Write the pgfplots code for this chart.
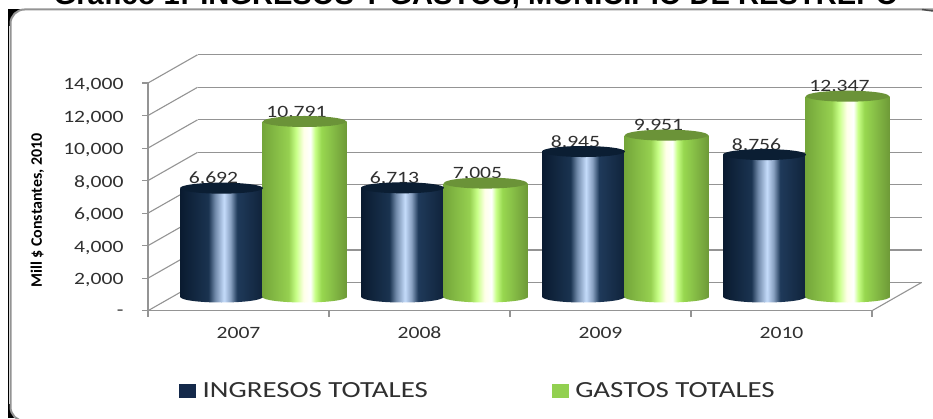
\documentclass[border=0pt]{standalone}
\usepackage{fontspec}
\usepackage{pgfplots}
\usepackage{pgfplotstable}
\pgfplotsset{compat=1.18}
\setmainfont{Carlito}
\newfontfamily\wide[FakeStretch=1.25]{Carlito}
\newfontfamily\titlefont{Liberation Sans}

\definecolor{gridc}{HTML}{949494}
\definecolor{txt}{HTML}{303030}
\definecolor{topdark}{HTML}{0B1E33}
\definecolor{topgreen}{HTML}{6B9338}
\definecolor{swdark}{HTML}{14294A}
\definecolor{swgreen}{HTML}{92D050}
\definecolor{da}{HTML}{0A1B30}
\definecolor{db}{HTML}{1A3350}
\definecolor{dc}{HTML}{6F88A8}
\definecolor{dd}{HTML}{C5DCFB}
\definecolor{de}{HTML}{88A0C0}
\definecolor{df}{HTML}{1F3A5A}
\definecolor{dg}{HTML}{10233B}
\definecolor{ga}{HTML}{74A63A}
\definecolor{gb}{HTML}{96D050}
\definecolor{gc}{HTML}{C8FF88}
\definecolor{gd}{HTML}{FFFFE8}
\definecolor{ge}{HTML}{FFFFFF}
\definecolor{gf}{HTML}{98D850}
\definecolor{gg}{HTML}{6E9A38}

% shading positions: path width maps to 25bp..75bp
\pgfdeclarehorizontalshading{darkcyl}{100bp}{
  color(0bp)=(da); color(25bp)=(da);
  color(42bp)=(db); color(46bp)=(dc);
  color(51.5bp)=(dd); color(55.5bp)=(de);
  color(59.5bp)=(df); color(75bp)=(dg); color(100bp)=(dg)}
\pgfdeclarehorizontalshading{greencyl}{100bp}{
  color(0bp)=(ga); color(25bp)=(ga);
  color(40.5bp)=(gb); color(45bp)=(gc);
  color(49.5bp)=(gd); color(53.5bp)=(ge);
  color(56.25bp)=(gc); color(60bp)=(gf);
  color(75bp)=(gg); color(100bp)=(gg)}

\pgfdeclareplotmark{captop}{%
  \pgfpathellipse{\pgfpointorigin}{\pgfqpoint{41.5pt}{0pt}}{\pgfqpoint{0pt}{5.5pt}}\pgfusepathqfill}
\pgfdeclareplotmark{basedark}{%
  \pgfpathellipse{\pgfpointorigin}{\pgfqpoint{41pt}{0pt}}{\pgfqpoint{0pt}{5.5pt}}%
  \pgfshadepath{darkcyl}{0}\pgfusepath{discard}}
\pgfdeclareplotmark{basegreen}{%
  \pgfpathellipse{\pgfpointorigin}{\pgfqpoint{42pt}{0pt}}{\pgfqpoint{0pt}{5.5pt}}%
  \pgfshadepath{greencyl}{0}\pgfusepath{discard}}

\pgfplotstableread{
i ingresos gastos
0 6692 10791
1 6713 7005
2 8945 9951
3 8756 12347
}\datos

\pgfplotsset{
  sameaxis/.style={
    scale only axis, width=724pt, height=227.7pt, anchor=south west, clip=false,
    xmin=-0.5, xmax=3.5, ymin=0, ymax=14000, scaled y ticks=false,
    /pgf/number format/assume math mode=true,
    /pgf/number format/1000 sep={,}},
  vals/.style={forget plot, draw=none, mark=none, nodes near coords,
    every node near coord/.append style={font=\wide\fontsize{17.3}{20}\selectfont, text=txt,
      anchor=south, inner sep=0pt, yshift=2pt, xshift=#1}},
}

\begin{document}
\begin{tikzpicture}
\path[use as bounding box] (0,0) rectangle (933pt,418pt);
\clip (0,0) rectangle (933pt,418pt);

% title, cut by the top of the picture
\node[anchor=base, font=\titlefont\bfseries\fontsize{29.1}{32}\selectfont, inner sep=0pt]
  at (476pt,413pt) {Gráfico 1: INGRESOS Y GASTOS, MUNICIPIO DE RESTREPO};

% frame
\fill[black] (8pt,409pt) rectangle (26pt,392pt);
\fill[black] (8pt,0pt) rectangle (20pt,14pt);
\draw[black, line width=1pt] (8.5pt,409pt) -- (8.5pt,0pt);
\draw[gridc, line width=2pt, fill=white, rounded corners=14pt]
  (10.5pt,-3pt) -- (10.5pt,408.5pt) -- (960pt,408.5pt) -- (960pt,-3pt) -- cycle;
\draw[gray!60!black, line width=1.5pt] (922pt,408.5pt) -- (933pt,407pt);

% back wall
\begin{axis}[sameaxis, at={(197.5pt,135.5pt)},
    ytick={0,2000,...,14000}, yticklabels={}, xtick=\empty,
    ymajorgrids, grid style={gridc, line width=1.1pt},
    axis line style={draw=none}, tick style={draw=none}]
\end{axis}

% front axis with ticks and labels
\begin{axis}[sameaxis, at={(148pt,107.3pt)},
    axis x line*=bottom, axis y line*=left,
    axis line style={gridc, line width=1.3pt, -},
    tick style={gridc, line width=1.1pt},
    tick align=outside, major tick length=6pt,
    xtick={-0.5,0.5,1.5,2.5,3.5}, x tick label as interval,
    xticklabels={2007,2008,2009,2010},
    ytick={0,2000,...,14000},
    yticklabels={-\hspace{23pt},{2,000},{4,000},{6,000},{8,000},{10,000},{12,000},{14,000}},
    tick label style={font=\wide\fontsize{17.3}{20}\selectfont, text=txt},
    yticklabel style={xshift=-15pt, yshift=-2pt},
    xticklabel style={yshift=-7pt, text height=11pt, text depth=0pt},
    ylabel={Mill \$ Constantes, 2010},
    ylabel style={font=\bfseries\fontsize{16}{18}\selectfont, at={(axis description cs:-0.153,0.44)}, anchor=center}]
  \pgfplotsinvokeforeach{0,2000,...,14000}{
    \draw[gridc, line width=1.1pt] (axis cs:-0.5,#1) -- ++(49.5pt,28.2pt);
  }
  \draw[gridc, line width=1.1pt] (axis cs:3.5,0) -- ++(49.5pt,28.2pt);
\end{axis}

% labels first: the tops of the cylinders cover their lower edge
\begin{axis}[sameaxis, at={(172pt,121pt)}, axis lines=none]
  \addplot[vals=-49pt] table[x=i,y=ingresos] {\datos};
  \addplot[vals=34pt] table[x=i,y=gastos] {\datos};
\end{axis}

% cylinders, one bar per plot so that each one gets its own shading
\begin{axis}[sameaxis, at={(172pt,121pt)}, axis lines=none,
    legend columns=2,
    legend style={at={(0.4227,-0.412)}, anchor=center, draw=none, fill=none,
      font=\wide\fontsize{23.1}{26}\selectfont, text=txt,
      /tikz/every odd column/.append style={column sep=5pt},
      /tikz/every even column/.append style={column sep=122pt}},
    legend cell align=left]
  \pgfplotsinvokeforeach{0,1,2,3}{
    \addplot[forget plot, only marks, mark=basedark, mark options={xshift=-41pt},
      restrict x to domain=#1:#1] table[x=i,y expr=0] {\datos};
    \addplot[forget plot, ybar, bar width=82pt, bar shift=-41pt, draw=none, shading=darkcyl,
      restrict x to domain=#1:#1] table[x=i,y=ingresos] {\datos};
    \addplot[forget plot, only marks, mark=captop, mark options={xshift=-41pt, fill=topdark, draw=none},
      restrict x to domain=#1:#1] table[x=i,y=ingresos] {\datos};
    \addplot[forget plot, only marks, mark=basegreen, mark options={xshift=42pt},
      restrict x to domain=#1:#1] table[x=i,y expr=0] {\datos};
    \addplot[forget plot, ybar, bar width=84pt, bar shift=42pt, draw=none, shading=greencyl,
      restrict x to domain=#1:#1] table[x=i,y=gastos] {\datos};
    \addplot[forget plot, only marks, mark=captop, mark options={xshift=42pt, fill=topgreen, draw=none},
      restrict x to domain=#1:#1] table[x=i,y=gastos] {\datos};
  }
  \addlegendimage{legend image code/.code={\fill[swdark] (0pt,-6.5pt) rectangle (16pt,6.5pt);}}
  \addlegendentry{INGRESOS TOTALES}
  \addlegendimage{legend image code/.code={\fill[swgreen] (0pt,-6.5pt) rectangle (16pt,6.5pt);}}
  \addlegendentry{GASTOS TOTALES}
\end{axis}
\end{tikzpicture}
\end{document}
